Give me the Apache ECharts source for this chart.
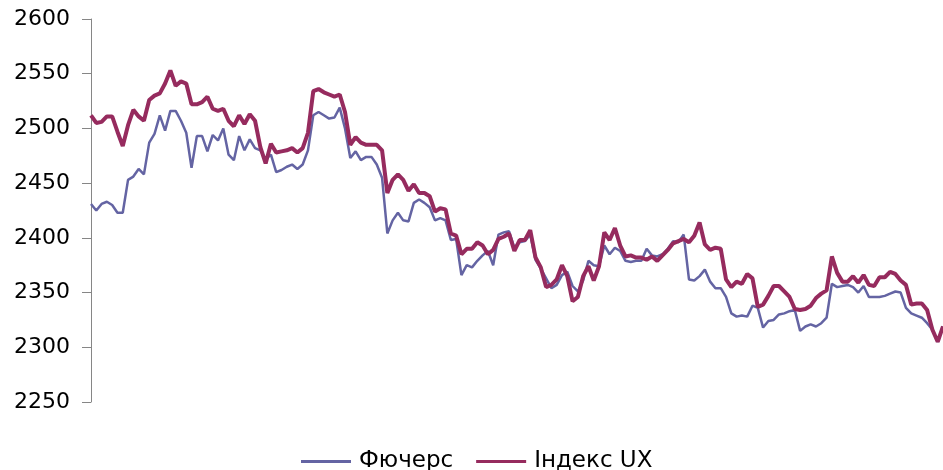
<!DOCTYPE html>
<html>
<head>
<meta charset="utf-8">
<script src="https://cdn.jsdelivr.net/npm/echarts@6/dist/echarts.min.js"></script>
<style>
html,body{margin:0;padding:0;background:#fff;}
#chart{width:943px;height:470px;}
</style>
</head>
<body>
<div id="chart"></div>
<script>
var seriesNames = ['Фючерс', 'Індекс UX'];
var yTicks = [2250, 2300, 2350, 2400, 2450, 2500, 2550, 2600];

var futures = [
2431,2425,2431,2433,2430,2423,2423,2453,2456,2463,
2458,2487,2495,2512,2498,2516,2516,2507,2496,2464,
2493,2493,2479,2494,2489,2500,2476,2471,2493,2480,
2490,2482,2480,2472,2476,2460,2462,2465,2467,2463,
2467,2480,2512,2515,2512,2509,2510,2519,2500,2473,
2479,2471,2474,2474,2467,2455,2404,2416,2423,2416,
2415,2432,2435,2432,2428,2416,2418,2416,2398,2399,
2366,2375,2373,2379,2384,2388,2375,2403,2405,2406,
2391,2396,2397,2403,2380,2372,2363,2354,2357,2366,
2369,2356,2351,2361,2379,2375,2374,2393,2385,2391,
2388,2379,2378,2379,2379,2390,2384,2383,2385,2390,
2397,2396,2403,2362,2361,2365,2371,2360,2354,2354,
2346,2331,2328,2329,2328,2338,2336,2318,2324,2325,
2330,2331,2333,2334,2315,2319,2321,2319,2322,2327,
2358,2355,2356,2357,2355,2350,2356,2346,2346,2346,
2347,2349,2351,2350,2336,2331,2329,2327,2322,2316,
2305,2319
];

var uxIndex = [
2512,2505,2506,2511,2511,2497,2484,2503,2517,2511,
2507,2526,2530,2532,2541,2553,2539,2543,2541,2522,
2522,2524,2529,2518,2516,2518,2507,2502,2512,2504,
2513,2507,2483,2468,2486,2478,2479,2480,2482,2478,
2482,2496,2534,2536,2533,2531,2529,2531,2515,2485,
2492,2487,2485,2485,2485,2480,2441,2453,2458,2453,
2443,2449,2441,2441,2438,2424,2427,2426,2404,2402,
2385,2390,2390,2396,2393,2385,2389,2399,2401,2404,
2388,2398,2398,2407,2382,2373,2355,2357,2362,2375,
2365,2342,2346,2365,2374,2361,2374,2405,2398,2409,
2393,2383,2384,2382,2382,2380,2383,2379,2384,2389,
2395,2397,2399,2396,2402,2414,2394,2389,2391,2390,
2362,2355,2360,2358,2367,2363,2337,2339,2347,2356,
2356,2351,2346,2335,2334,2335,2338,2345,2349,2352,
2383,2368,2360,2360,2365,2359,2366,2357,2356,2364,
2364,2369,2367,2361,2357,2339,2340,2340,2334,2316,
2305,2319
];

var categories = futures.map(function (_, i) { return String(i + 1); });

var colors = ['#6464A3', '#962B5E'];

var chart = echarts.init(document.getElementById('chart'), null, {renderer: 'canvas'});
chart.setOption({
  animation: false,
  backgroundColor: '#ffffff',
  grid: {left: 91, right: 0, top: 19, bottom: 68, containLabel: false},
  legend: {
    data: [
      {name: seriesNames[0], icon: 'rect', itemStyle: {color: colors[0]}},
      {name: seriesNames[1], icon: 'rect', itemStyle: {color: colors[1]}}
    ],
    top: 445,
    left: 296,
    itemWidth: 50,
    itemHeight: 3,
    itemGap: 23,
    textStyle: {fontFamily: 'DejaVu Sans', fontSize: 23, color: '#000', padding: [0, 0, 0, 3]}
  },
  xAxis: {
    type: 'category',
    data: categories,
    boundaryGap: false,
    axisLine: {show: false},
    axisTick: {show: false},
    axisLabel: {show: false},
    splitLine: {show: false}
  },
  yAxis: {
    type: 'value',
    min: yTicks[0],
    max: yTicks[yTicks.length - 1],
    interval: 50,
    axisLine: {show: true, lineStyle: {color: '#868686', width: 1}},
    axisTick: {show: true, inside: false, length: 9, lineStyle: {color: '#868686'}},
    axisLabel: {
      margin: 21, fontFamily: 'DejaVu Sans', fontSize: 22, color: '#000',
      formatter: function (v) { return String(v); }
    },
    splitLine: {show: false}
  },
  series: [
    {
      name: seriesNames[0],
      type: 'line',
      data: futures,
      symbol: 'none',
      lineStyle: {color: colors[0], width: 2.5},
      itemStyle: {color: colors[0]},
      z: 2
    },
    {
      name: seriesNames[1],
      type: 'line',
      data: uxIndex,
      symbol: 'none',
      lineStyle: {color: colors[1], width: 4},
      itemStyle: {color: colors[1]},
      z: 3
    }
  ]
});
</script>
</body>
</html>
